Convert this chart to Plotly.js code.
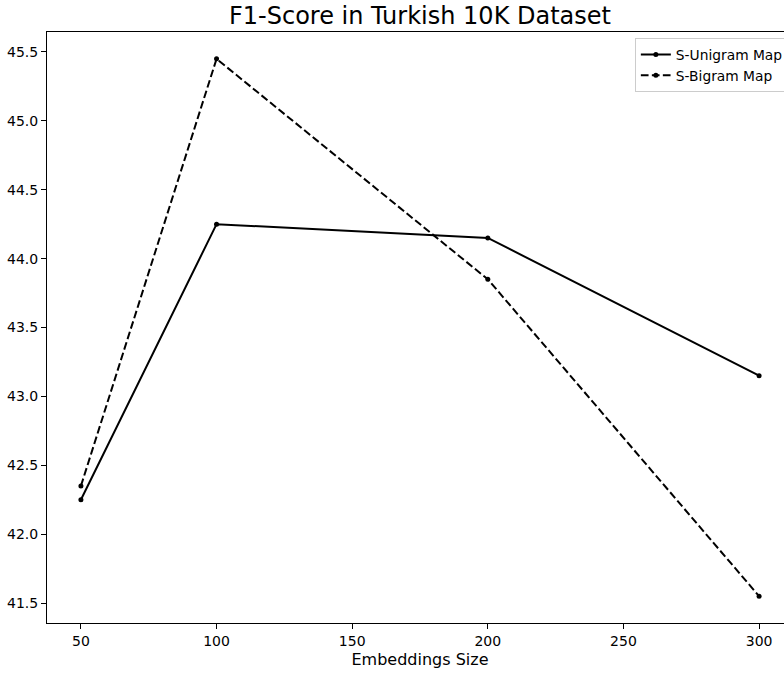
<!DOCTYPE html>
<html>
<head>
<meta charset="utf-8">
<script src="https://cdn.plot.ly/plotly-3.0.1.min.js"></script>
<style>html,body{margin:0;padding:0;overflow:hidden;background:#fff;}#chart{width:800px;height:673px;}</style>
</head>
<body>
<div id="chart"></div>
<script>
const embeddingSizes = [50, 100, 200, 300];
const unigramF1 = [42.25, 44.25, 44.15, 43.15];
const bigramF1 = [42.35, 45.45, 43.85, 41.55];
const xTicks = [50, 100, 150, 200, 250, 300];
const yTicks = [41.5, 42.0, 42.5, 43.0, 43.5, 44.0, 44.5, 45.0, 45.5];

const font = 'DejaVu Sans, sans-serif';
const traces = [
  {x: embeddingSizes, y: unigramF1, name: 'S-Unigram Map', mode: 'lines+markers', type: 'scatter',
   line: {color: '#000', width: 2}, marker: {color: '#000', size: 5}},
  {x: embeddingSizes, y: bigramF1, name: 'S-Bigram Map', mode: 'lines+markers', type: 'scatter',
   line: {color: '#000', width: 2, dash: '7.7px,3.3px'}, marker: {color: '#000', size: 5}}
];
const axisCommon = {
  showgrid: false, zeroline: false, showline: true, mirror: true, linecolor: '#000', linewidth: 1,
  ticks: 'outside', ticklen: 5, tickwidth: 1, tickcolor: '#000',
  tickfont: {family: font, size: 14, color: '#000'}
};
const layout = {
  width: 800, height: 673,
  margin: {l: 47, r: 7, t: 32, b: 50},
  paper_bgcolor: '#fff', plot_bgcolor: '#fff',
  font: {family: font, color: '#000'},
  title: {text: 'F1-Score in Turkish 10K Dataset', font: {family: font, size: 24, color: '#000'},
          xref: 'paper', x: 0.5, xanchor: 'center', yref: 'container', y: 1 - 16/673, yanchor: 'middle'},
  xaxis: Object.assign({}, axisCommon, {range: [37.5, 312.5], tickvals: xTicks, ticktext: xTicks.map(String),
    title: {text: 'Embeddings Size', font: {family: font, size: 16, color: '#000'}, standoff: 6}}),
  yaxis: Object.assign({}, axisCommon, {range: [41.355, 45.645], tickvals: yTicks, ticktext: yTicks.map(v => v.toFixed(1))}),
  showlegend: true,
  legend: {x: 0.788, y: 0.99, xanchor: 'left', yanchor: 'top', bgcolor: 'rgba(255,255,255,0.8)',
    bordercolor: '#ccc', borderwidth: 1, font: {family: font, size: 13.8, color: '#000'}, tracegroupgap: 0}
};
Plotly.newPlot('chart', traces, layout, {displayModeBar: false, staticPlot: true});
</script>
</body>
</html>
